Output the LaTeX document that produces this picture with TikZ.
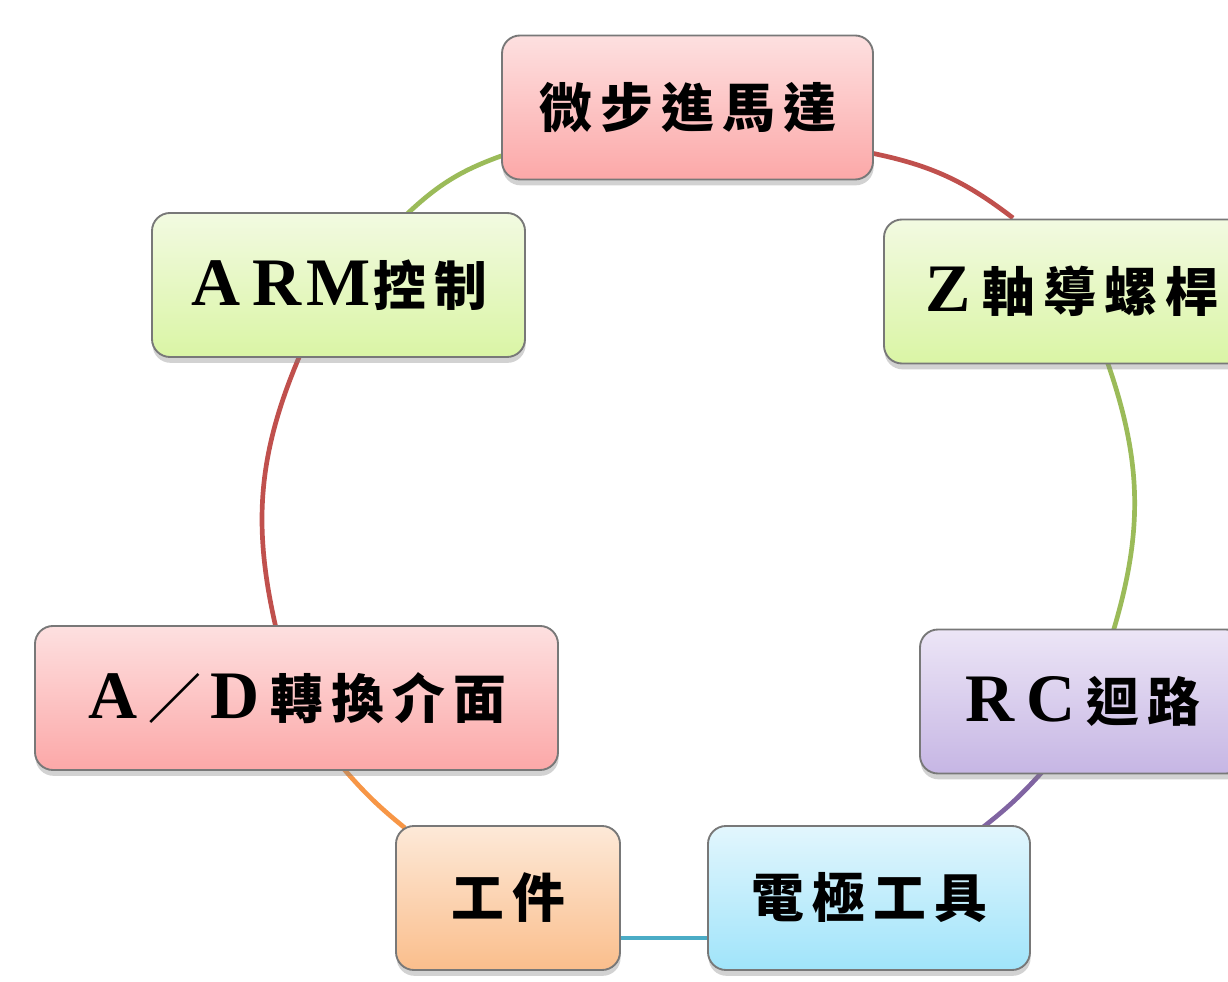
\documentclass[tikz,border=0pt]{standalone}
\usepackage{fontspec}
\newfontfamily\cjkfont{Noto Sans CJK TC}
\newfontfamily\latfont{Liberation Serif}
\usetikzlibrary{shadows}
\pgfdeclarelayer{background}
\pgfsetlayers{background,main}
\newcommand\cjch[1]{\makebox[1.83cm]{\cjkfont\bfseries\fontsize{45pt}{50pt}\selectfont #1}}
\newcommand\latch[1]{\makebox[1.83cm]{\latfont\bfseries\fontsize{58pt}{60pt}\selectfont #1}}
\definecolor{pinktop}{RGB}{253,224,224}
\definecolor{pinkbot}{RGB}{252,168,168}
\definecolor{greentop}{RGB}{242,250,225}
\definecolor{greenbot}{RGB}{218,245,165}
\definecolor{purptop}{RGB}{236,229,246}
\definecolor{purpbot}{RGB}{198,182,228}
\definecolor{bluetop}{RGB}{226,246,253}
\definecolor{bluebot}{RGB}{160,228,250}
\definecolor{orgtop}{RGB}{253,233,216}
\definecolor{orgbot}{RGB}{250,190,140}
\definecolor{boxborder}{RGB}{120,120,120}
\definecolor{cred}{RGB}{192,80,77}
\definecolor{cgreen}{RGB}{155,187,89}
\definecolor{cpurple}{RGB}{128,100,162}
\definecolor{cblue}{RGB}{75,172,198}
\definecolor{corange}{RGB}{247,150,70}
\tikzset{
  box/.style={rounded corners=0.54cm, draw=boxborder, line width=1.6pt,
    minimum height=4.32cm, inner sep=0pt,
    drop shadow={shadow xshift=0.5pt, shadow yshift=-5pt, opacity=0.35}},
  pinkbox/.style={box, top color=pinktop, bottom color=pinkbot},
  greenbox/.style={box, top color=greentop, bottom color=greenbot},
  purpbox/.style={box, top color=purptop, bottom color=purpbot},
  bluebox/.style={box, top color=bluetop, bottom color=bluebot},
  orgbox/.style={box, top color=orgtop, bottom color=orgbot},
  conn/.style={line width=4pt}
}
\begin{document}
\begin{tikzpicture}[x=0.03cm,y=0.03cm]
\useasboundingbox (0,0) rectangle (1228,982);
\node[pinkbox, minimum width=11.13cm] (n1) at (687.5,874.5) {\cjch{微}\cjch{步}\cjch{進}\cjch{馬}\cjch{達}};
\node[greenbox, minimum width=11.16cm] (n2) at (1070,690.5) {\latch{Z}\cjch{軸}\cjch{導}\cjch{螺}\cjch{桿}};
\node[purpbox, minimum width=9.72cm] (n3) at (1082,280.5) {\latch{R}\latch{C}\cjch{迴}\cjch{路}};
\node[bluebox, minimum width=9.66cm] (n4) at (869,84) {\cjch{電}\cjch{極}\cjch{工}\cjch{具}};
\node[orgbox, minimum width=6.72cm] (n5) at (508,84) {\cjch{工}\cjch{件}};
\node[pinkbox, minimum width=15.69cm] (n6) at (296.5,284) {\latch{A}\cjch{／}\latch{D}\cjch{轉}\cjch{換}\cjch{介}\cjch{面}};
\node[greenbox, minimum width=11.19cm] (n7) at (338.5,697) {\latch{A}\latch{R}\latch{M}\cjch{控}\cjch{制}};
% connector end points on the node borders
\coordinate (a12) at (871,829);   \coordinate (b12) at (1013,764);
\coordinate (a23) at (1107,621);  \coordinate (b23) at (1113,350);
\coordinate (a34) at (1043,211);  \coordinate (b34) at (982,154);
\coordinate (a45) at (710,44);    \coordinate (b45) at (618,44);
\coordinate (a56) at (405,154);   \coordinate (b56) at (343,214);
\coordinate (a67) at (276,354);   \coordinate (b67) at (300,627);
\coordinate (a71) at (406,767);   \coordinate (b71) at (504,827);
\begin{pgfonlayer}{background}
\fill[white] (0,0) rectangle (1228,982);
\draw[conn, cred] (a12) to[bend left=13] (b12);
\draw[conn, cgreen] (a23) to[bend left=18] (b23);
\draw[conn, cpurple] (a34) to[bend left=5] (b34);
\draw[conn, cblue] (a45) -- (b45);
\draw[conn, corange] (a56) to[bend left=5] (b56);
\draw[conn, cred] (a67) to[bend left=18] (b67);
\draw[conn, cgreen] (a71) to[bend left=12] (b71);
\end{pgfonlayer}
\end{tikzpicture}
\end{document}
